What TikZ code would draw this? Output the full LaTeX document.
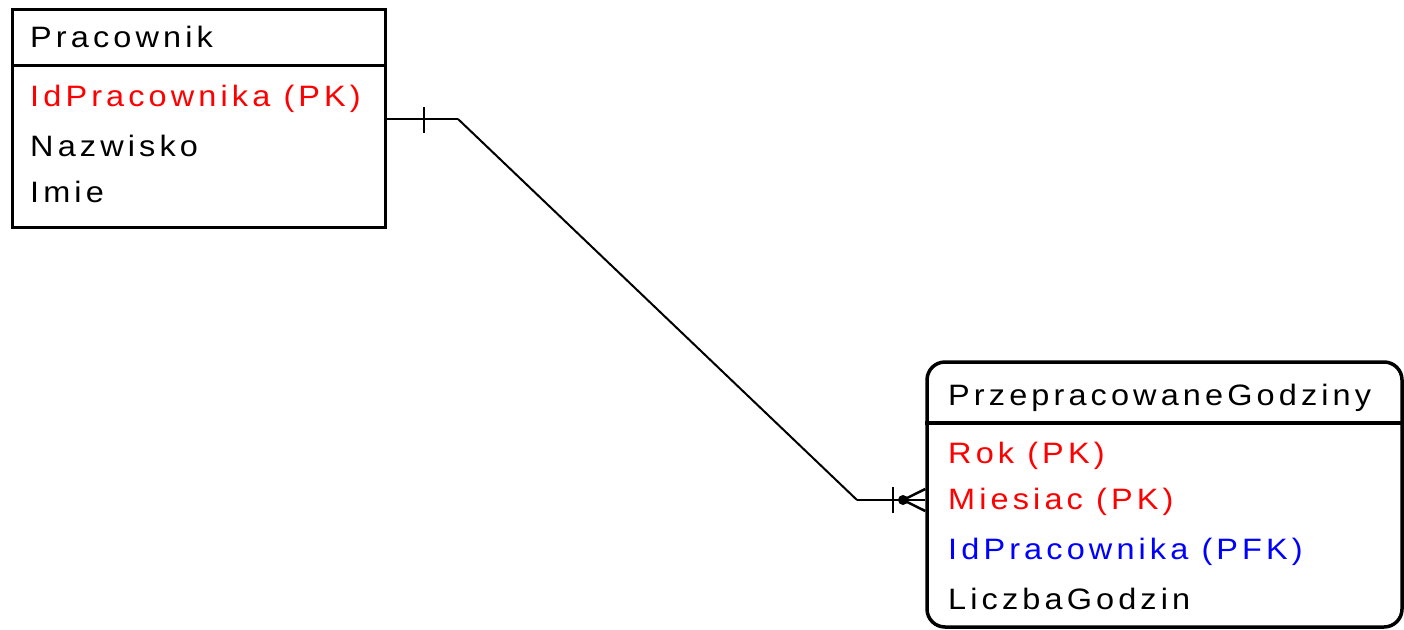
\documentclass[tikz,border=0pt]{standalone}
\usepackage{fontspec}
\setmainfont{Liberation Sans}[FakeStretch=1.1,LetterSpace=14]
\begin{document}
\begin{tikzpicture}[x=1pt,y=-1pt,
  ent/.style={draw=black,line width=3.5pt,inner sep=0pt},
  lbl/.style={anchor=base west,inner sep=0pt,font=\fontsize{29.5}{30}\selectfont},
  pk/.style={lbl,text={rgb,255:red,255;green,0;blue,0}},
  fk/.style={lbl,text={rgb,255:red,0;green,0;blue,255}},
  conn/.style={draw=black,line width=2.5pt},
  thin/.style={draw=black,line width=2pt}]
\useasboundingbox (0,0) rectangle (1404,629);
\fill[white] (0,0) rectangle (1404,629);
% entity Pracownik
\node[ent,minimum width=373pt,minimum height=218pt] (e1) at (199,118.5) {};
\draw[ent] (e1.west |- 0,65.5) -- (e1.east |- 0,65.5);
\node[lbl] (t1) at (30,47) {Pracownik};
\node[pk] (a1) at (30,106) {IdPracownika (PK)};
\node[lbl] (a2) at (30,156) {Nazwisko};
\node[lbl] (a3) at (30,202) {Imie};
% entity PrzepracowaneGodziny
\node[ent,rounded corners=18pt,minimum width=475pt,minimum height=265pt] (e2) at (1164.5,494.5) {};
\draw[ent] (e2.west |- 0,423) -- (e2.east |- 0,423);
\node[lbl] (t2) at (948,405) {PrzepracowaneGodziny};
\node[pk] (b1) at (948,463) {Rok (PK)};
\node[pk] (b2) at (948,509) {Miesiac (PK)};
\node[fk] (b3) at (948,559) {IdPracownika (PFK)};
\node[lbl] (b4) at (948,609) {LiczbaGodzin};
% connector
\coordinate (p1) at (458,119);
\coordinate (p2) at (857,500);
\coordinate (q1) at (903,500);
\draw[conn] (e1.east |- p1) -- (p1);
\draw[thin] (p1) -- (p2);
\draw[conn] (p2) -- (e2.west |- p2);
% one mark near Pracownik
\draw[conn] (424,107) -- (424,133);
% one mark, dot and crow's foot near PrzepracowaneGodziny
\draw[conn] (893,487) -- (893,513);
\fill[black] (q1) circle (5pt);
\draw[conn] (q1) -- (e2.west |- 0,489);
\draw[conn] (q1) -- (e2.west |- 0,511);
\end{tikzpicture}
\end{document}
